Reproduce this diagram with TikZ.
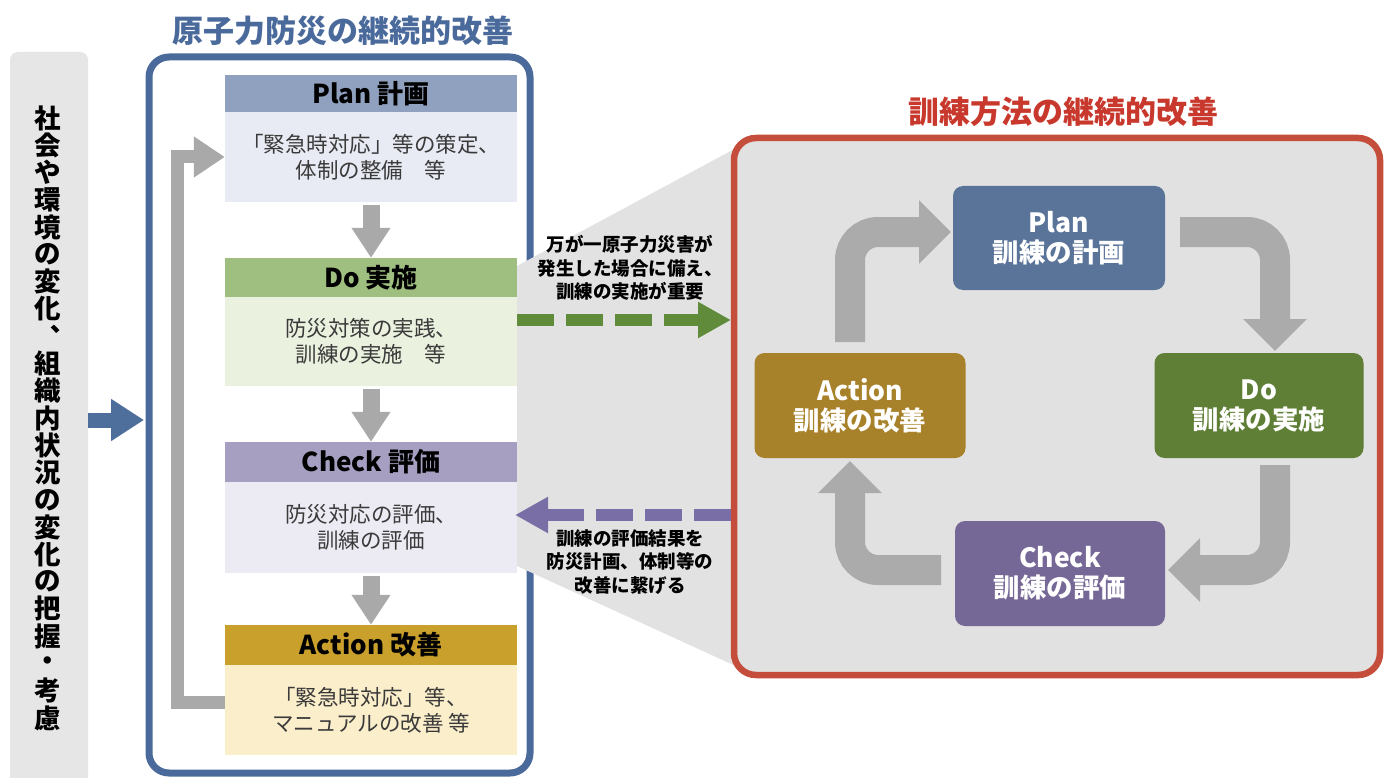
\documentclass[tikz,border=0pt]{standalone}
\usepackage{fontspec}
\setmainfont{Noto Sans CJK JP}
\usetikzlibrary{arrows.meta}
\definecolor{barbg}{HTML}{E6E6E6}
\definecolor{pblue}{HTML}{4A6A9B}
\definecolor{bluearr}{HTML}{4E6F9C}
\definecolor{planH}{HTML}{8FA1BE}
\definecolor{planB}{HTML}{E8EBF3}
\definecolor{doH}{HTML}{9EBF80}
\definecolor{doB}{HTML}{EAF1DF}
\definecolor{chkH}{HTML}{A69FC2}
\definecolor{chkB}{HTML}{ECEAF3}
\definecolor{actH}{HTML}{C9A02C}
\definecolor{actB}{HTML}{FBEECB}
\definecolor{arrgray}{HTML}{A9A9A9}
\definecolor{zoomgray}{HTML}{E2E2E2}
\definecolor{redB}{HTML}{C44D3B}
\definecolor{redT}{HTML}{C8382C}
\definecolor{rpbg}{HTML}{E1E1E1}
\definecolor{iPlan}{HTML}{5A7499}
\definecolor{iDo}{HTML}{5F7F37}
\definecolor{iChk}{HTML}{766896}
\definecolor{iAct}{HTML}{A8822A}
\definecolor{cycgray}{HTML}{ABABAB}
\definecolor{greenD}{HTML}{5F8B3B}
\definecolor{purpD}{HTML}{7A6EA6}
\definecolor{bodytext}{HTML}{3A3A3A}
\definecolor{titleblue}{HTML}{4A6A9C}
\tikzset{
  hdr/.style={minimum width=292pt, inner sep=0pt, text=black,
    font=\fontsize{26pt}{30pt}\selectfont\bfseries},
  bdy/.style={minimum width=292pt, inner sep=0pt, text=bodytext, align=center,
    font=\fontsize{21.5pt}{26pt}\selectfont},
  vtext/.style={inner sep=0pt, text=black, font=\fontsize{26.5pt}{26.5pt}\selectfont\bfseries},
  ibox/.style={rounded corners=10pt, minimum height=105pt, inner sep=0pt, text=white,
    align=center, font=\fontsize{26.5pt}{30pt}\selectfont\bfseries},
  downarr/.style={draw=arrgray, line width=17pt, -{Triangle[width=37pt,length=30pt]}},
  fbarr/.style={draw=arrgray, line width=13pt, -{Triangle[width=39pt,length=31pt]}},
  cyc/.style={draw=cycgray, line width=30pt, rounded corners=28pt, -{Triangle[width=62pt,length=32pt]}},
  dashg/.style={draw=greenD, line width=12pt, dash pattern=on 37pt off 12pt, -{Triangle[width=34pt,length=33pt]}},
  dashp/.style={draw=purpD, line width=12pt, dash pattern=on 37pt off 12pt, -{Triangle[width=34pt,length=33pt]}},
  midlabel/.style={inner sep=0pt, align=center, text=black, font=\fontsize{18.5pt}{23.5pt}\selectfont\bfseries},
  ttl/.style={inner sep=0pt, font=\fontsize{31pt}{35pt}\selectfont\bfseries}
}
\begin{document}
\begin{tikzpicture}[x=1pt,y=-1pt]
\useasboundingbox (0,0) rectangle (1391,778);
\fill[white] (0,0) rectangle (1391,778);

% left vertical bar
\node[fill=barbg, rounded corners=8pt, minimum width=78pt, minimum height=740pt, inner sep=0pt] (bar) at (49,422) {};
\foreach \c [count=\i] in {社,会,や,環,境,の,変,化,︑,組,織,内,状,況,の,変,化,の,把,握,・,考,慮}
  \node[vtext] (v\i) at (48,{118+27.27*(\i-1)}) {\c};

% left panel
\node[draw=pblue, line width=7pt, rounded corners=20pt, minimum width=381pt, minimum height=716pt, inner sep=0pt] (lp) at (339.5,415) {};
\node[ttl, text=titleblue] (lt) at (343,31) {原子力防災の継続的改善};

\coordinate (ba1) at (88,420);
\coordinate (ba2) at (144,420);
\draw[bluearr, line width=15pt, -{Triangle[width=40pt,length=33pt]}] (ba1) -- (ba2);

\node[hdr, fill=planH, minimum height=37pt] (ph) at (371,93.5) {Plan 計画};
\node[bdy, fill=planB, minimum height=90pt] (pb) at (371,157) {「緊急時対応」等の策定、\\体制の整備　等};
\node[hdr, fill=doH, minimum height=39pt] (dh) at (371,277.5) {Do 実施};
\node[bdy, fill=doB, minimum height=89pt] (db) at (371,341.5) {防災対策の実践、\\訓練の実施　等};
\node[hdr, fill=chkH, minimum height=40pt] (ch) at (371,462) {Check 評価};
\node[bdy, fill=chkB, minimum height=91pt] (cb) at (371,527.5) {防災対応の評価、\\訓練の評価};
\node[hdr, fill=actH, minimum height=40pt] (ah) at (371,645) {Action 改善};
\node[bdy, fill=actB, minimum height=90pt] (ab) at (371,710) {「緊急時対応」等、\\マニュアルの改善 等};

\draw[downarr] ([yshift=-3pt]pb.south) -- (dh.north);
\draw[downarr] ([yshift=-3pt]db.south) -- (ch.north);
\draw[downarr] ([yshift=-3pt]cb.south) -- (ah.north);
\draw[fbarr] ([yshift=8pt]ab.west) -- ++(-47,0) |- (pb.west);

% zoom trapezoid
\fill[zoomgray] (517,266) -- (740,146) -- (740,668) -- (517,566) -- cycle;

% right panel
\node[draw=redB, fill=rpbg, line width=6.5pt, rounded corners=22pt, minimum width=646pt, minimum height=537pt, inner sep=0pt] (rp) at (1057,406.5) {};
\node[ttl, text=redT] (rt) at (1063,112) {訓練方法の継続的改善};

\node[ibox, fill=iPlan, minimum width=212pt, minimum height=104pt] (ip) at (1059,238) {Plan\\訓練の計画};
\node[ibox, fill=iDo, minimum width=209pt] (id) at (1259,405.5) {Do\\訓練の実施};
\node[ibox, fill=iChk, minimum width=210pt] (ic) at (1060,573.5) {Check\\訓練の評価};
\node[ibox, fill=iAct, minimum width=211pt] (ia) at (860,405.5) {Action\\訓練の改善};

\coordinate (c1s) at (850,342);  \coordinate (c1e) at (951,232);
\coordinate (c2s) at (1180,232); \coordinate (c2e) at (1275,351);
\coordinate (c3s) at (1275,465); \coordinate (c3e) at (1168,570);
\coordinate (c4s) at (941,570);  \coordinate (c4e) at (850,461);
\draw[cyc] (c1s) |- (c1e);
\draw[cyc] (c2s) -| (c2e);
\draw[cyc] (c3s) |- (c3e);
\draw[cyc] (c4s) -| (c4e);

% dashed arrows
\coordinate (g1) at (517,320); \coordinate (g2) at (731,320);
\coordinate (p1) at (731,515); \coordinate (p2) at (515,515);
\draw[dashg] (g1) -- (g2);
\draw[dashp] (p1) -- (p2);

\node[midlabel] (gl) at (630,268) {万が一原子力災害が\\発生した場合に備え、\\訓練の実施が重要};
\node[midlabel] (pl) at (630,562) {訓練の評価結果を\\防災計画、体制等の\\改善に繋げる};
\end{tikzpicture}
\end{document}
